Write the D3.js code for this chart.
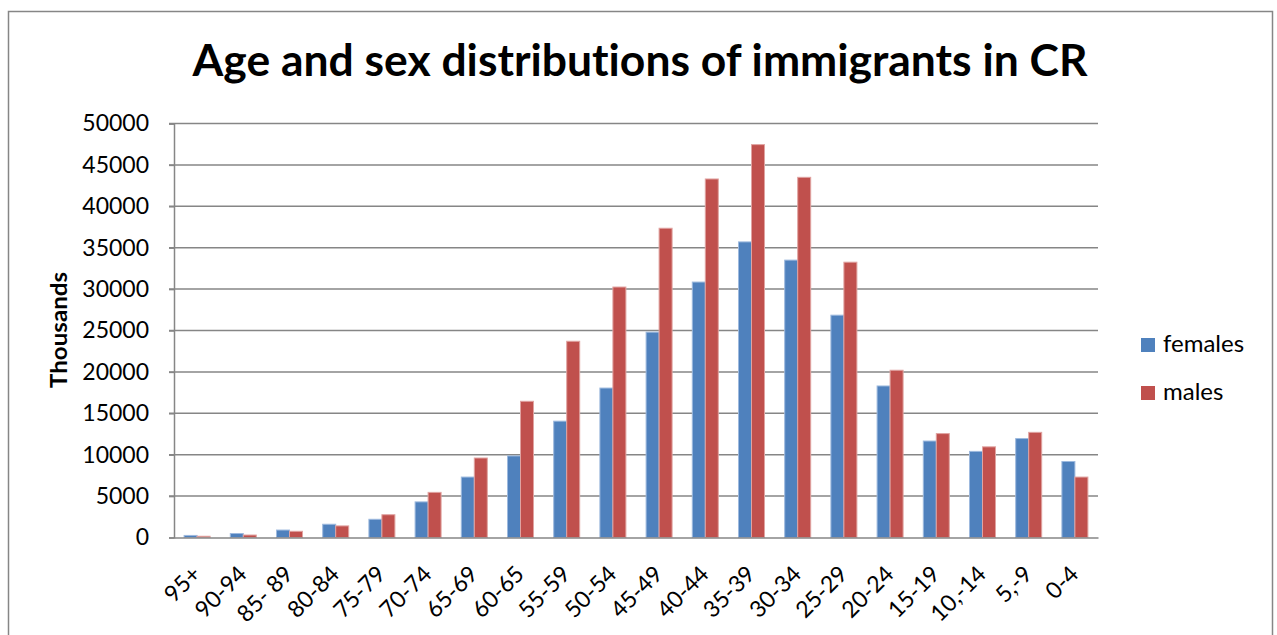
<!DOCTYPE html>
<html>
<head>
<meta charset="utf-8">
<script src="https://cdn.jsdelivr.net/npm/d3@7"></script>
<style>
  html, body { margin: 0; padding: 0; background: #fff; }
  svg { display: block; font-family: Lato, "Open Sans", sans-serif; font-variant-ligatures: none; }
</style>
</head>
<body>
<svg id="chart" width="1277" height="635"></svg>
<script>
// Age groups, oldest first
const ageGroups = ["95+", "90-94", "85- 89", "80-84", "75-79", "70-74", "65-69", "60-65",
  "55-59", "50-54", "45-49", "40-44", "35-39", "30-34", "25-29", "20-24",
  "15-19", "10,-14", "5,-9", "0-4"];

// Immigrants by age group (thousands)
const females = [250, 480, 900, 1600, 2200, 4300, 7300, 9850, 14050, 18050, 24800, 30850,
  35700, 33500, 26850, 18300, 11650, 10400, 11950, 9180];
const males = [150, 300, 750, 1400, 2750, 5450, 9600, 16450, 23700, 30250, 37350, 43300,
  47450, 43500, 33250, 20200, 12550, 10950, 12700, 7300];

const yTicks = [0, 5000, 10000, 15000, 20000, 25000, 30000, 35000, 40000, 45000, 50000];

const seriesNames = ["females", "males"];
const seriesColors = ["#4F81BD", "#C0504D"];
const seriesStrokes = ["#9DB9DE", "#E0A3A1"];

const svg = d3.select("#chart");
const plot = { left: 174, right: 1098, top: 123.5, bottom: 537.5 };

// Outer frame
svg.append("rect")
  .attr("x", 8.5).attr("y", 11.5)
  .attr("width", 1264).attr("height", 640)
  .attr("fill", "#fff").attr("stroke", "#868686").attr("stroke-width", 1.5);

// Title
svg.append("text")
  .attr("x", 640).attr("y", 76)
  .attr("text-anchor", "middle")
  .attr("font-weight", "bold")
  .attr("font-size", 43)
  .attr("fill", "#000")
  .attr("textLength", 895).attr("lengthAdjust", "spacingAndGlyphs")
  .text("Age and sex distributions of immigrants in CR");

const x0 = d3.scaleBand().domain(ageGroups).range([plot.left, plot.right]).paddingInner(0).paddingOuter(0);
const bw = x0.bandwidth();
const barW = bw * 13 / 46.2;
const x1 = d3.scaleBand().domain(seriesNames).range([bw / 2 - barW, bw / 2 + barW]).padding(0);
const y = d3.scaleLinear().domain([0, 50000]).range([plot.bottom, plot.top]);

// Horizontal gridlines
svg.append("g")
  .selectAll("line").data(yTicks.filter(d => d > 0)).join("line")
  .attr("x1", plot.left - 5).attr("x2", plot.right)
  .attr("y1", d => y(d)).attr("y2", d => y(d))
  .attr("stroke", "#868686").attr("stroke-width", 1.5);

// Y axis
const yAxis = svg.append("g")
  .attr("transform", `translate(${plot.left},0)`)
  .call(d3.axisLeft(y).tickValues(yTicks).tickSize(5).tickPadding(20).tickFormat(d3.format("d")));
yAxis.select(".domain").attr("stroke", "#868686").attr("stroke-width", 1.5);
yAxis.selectAll(".tick line").attr("stroke", "#868686").attr("stroke-width", 1.5);
yAxis.selectAll(".tick text")
  .attr("font-family", "Lato, sans-serif").attr("font-size", 23).attr("fill", "#000");

// Y axis title
svg.append("text")
  .attr("transform", "translate(67,330) rotate(-90)")
  .attr("text-anchor", "middle")
  .attr("font-weight", "bold").attr("font-size", 23)
  .attr("textLength", 116).attr("lengthAdjust", "spacingAndGlyphs")
  .text("Thousands");

// Bars
const rows = ageGroups.map((g, i) => ({ g, values: [females[i], males[i]] }));
const groups = svg.append("g").selectAll("g").data(rows).join("g")
  .attr("transform", d => `translate(${x0(d.g)},0)`);
groups.selectAll("rect")
  .data(d => d.values.map((v, k) => ({ v, k })))
  .join("rect")
  .attr("x", d => x1(seriesNames[d.k]))
  .attr("width", x1.bandwidth())
  .attr("y", d => y(d.v))
  .attr("height", d => y(0) - y(d.v))
  .attr("fill", d => seriesColors[d.k])
  .attr("stroke", d => seriesStrokes[d.k])
  .attr("stroke-width", 1);

// X axis line and rotated category labels
const xAxis = svg.append("g")
  .attr("transform", `translate(0,${plot.bottom})`)
  .call(d3.axisBottom(x0).tickSize(0).tickPadding(0));
xAxis.select(".domain").attr("stroke", "#868686").attr("stroke-width", 1.5);
xAxis.selectAll(".tick text")
  .attr("font-family", "Lato, sans-serif").attr("font-size", 23).attr("fill", "#000")
  .attr("text-anchor", "end")
  .attr("dy", 0)
  .attr("transform", "translate(5,38) rotate(-45)");

// Legend
const legend = svg.append("g").selectAll("g").data(seriesNames).join("g")
  .attr("transform", (d, i) => `translate(1141,${338 + i * 48})`);
legend.append("rect")
  .attr("width", 14).attr("height", 14)
  .attr("fill", (d, i) => seriesColors[i]);
legend.append("text")
  .attr("x", 22).attr("y", 14)
  .attr("font-size", 24).attr("fill", "#000")
  .text(d => d);
</script>
</body>
</html>
